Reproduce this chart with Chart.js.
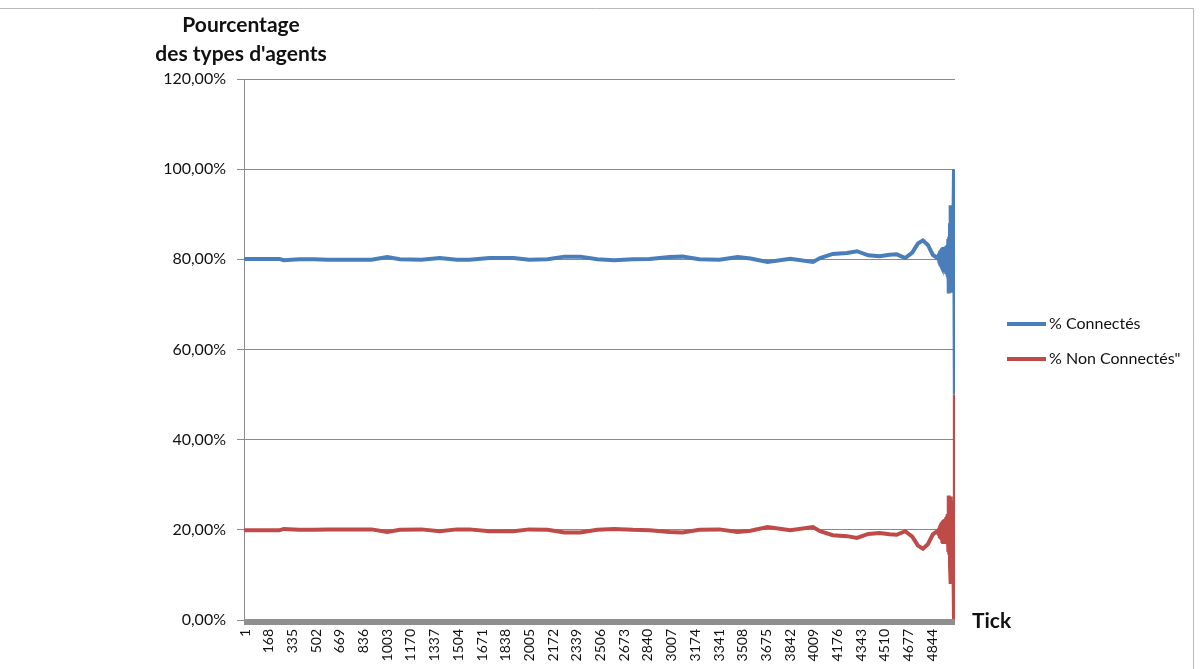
<!DOCTYPE html>
<html>
<head>
<meta charset="utf-8">
<script src="https://cdn.jsdelivr.net/npm/chart.js@4/dist/chart.umd.min.js"></script>
<style>
  html, body { margin: 0; padding: 0; background: #fff; overflow: hidden; }
  canvas { display: block; }
</style>
</head>
<body>
<canvas id="graphique_agents" width="1203" height="669"></canvas>
<script>
// ticks de la simulation (axe X) et pourcentages lus pour chaque type d'agent
var ticks = [1, 110, 250, 280, 390, 500, 590, 750, 900, 1010, 1100, 1250, 1380, 1500, 1590, 1730, 1900,
  2010, 2140, 2260, 2370, 2490, 2610, 2740, 2860, 3000, 3090, 3210, 3350, 3480, 3570, 3690, 3850,
  4010, 4060, 4150, 4250, 4320, 4400, 4480, 4550, 4600, 4660, 4710, 4750, 4785, 4820, 4855, 4885,
  4898, 4901, 4904, 4907, 4910, 4913, 4916, 4919, 4922, 4925, 4928, 4931, 4934, 4937, 4940, 4943,
  4946, 4949, 4952, 4955, 4958, 4961,
  4964, 4967, 4970, 4973, 4976, 4979, 4982, 4985, 4988, 4991, 4994, 4997, 5000, 5004, 5010];

var connectes = [80.1, 80.1, 80.1, 79.8, 80.0, 80.0, 79.9, 79.9, 79.9, 80.5, 80.0, 79.9, 80.3, 79.9, 79.9, 80.3, 80.3,
  79.9, 80.0, 80.6, 80.6, 80.0, 79.8, 80.0, 80.1, 80.5, 80.6, 80.0, 79.9, 80.5, 80.2, 79.4, 80.1,
  79.4, 80.3, 81.2, 81.4, 81.8, 80.9, 80.7, 81.0, 81.1, 80.3, 81.5, 83.5, 84.2, 83.2, 81.0, 80.3,
  81.0, 79.5, 81.8, 79.0, 82.0, 78.6, 82.3, 78.3, 82.5, 78.0, 82.7, 77.8, 82.7, 77.6, 82.6, 77.6,
  82.8, 77.2, 83.0, 77.0, 83.2, 76.5,
  84.5, 72.4, 85.0, 73.0, 88.0, 72.6, 92.0, 73.5, 91.5, 74.0, 91.8, 76.0, 88.0, 100.0, 50.0];

var nonConnectes = [19.9, 19.9, 19.9, 20.2, 20.0, 20.0, 20.1, 20.1, 20.1, 19.5, 20.0, 20.1, 19.7, 20.1, 20.1, 19.7, 19.7,
  20.1, 20.0, 19.4, 19.4, 20.0, 20.2, 20.0, 19.9, 19.5, 19.4, 20.0, 20.1, 19.5, 19.8, 20.6, 19.9,
  20.6, 19.7, 18.8, 18.6, 18.2, 19.1, 19.3, 19.0, 18.9, 19.7, 18.5, 16.5, 15.8, 16.8, 19.0, 19.7,
  19.0, 20.5, 18.2, 21.0, 18.0, 21.4, 17.7, 21.7, 17.5, 22.0, 17.3, 22.2, 17.3, 22.4, 17.4, 22.4,
  17.2, 22.8, 17.0, 23.0, 16.8, 23.5,
  15.5, 27.6, 15.0, 27.0, 12.0, 27.4, 8.0, 26.5, 8.5, 26.0, 8.2, 24.0, 12.0, 0.0, 50.0];

// graduations affichées sous l'axe X (une tous les 167 ticks)
var etiquettesX = [1, 168, 335, 502, 669, 836, 1003, 1170, 1337, 1504, 1671, 1838, 2005, 2172, 2339,
  2506, 2673, 2840, 3007, 3174, 3341, 3508, 3675, 3842, 4009, 4176, 4343, 4510, 4677, 4844];

var series = [
  { label: "% Connectés", valeurs: connectes, couleur: "#4a7ebb" },
  { label: "% Non Connectés\"", valeurs: nonConnectes, couleur: "#be4b48" }
];

function points(valeurs) {
  return ticks.map(function (t, i) { return { x: t, y: valeurs[i] }; });
}

var policeTexte = "Lato, 'Liberation Sans', sans-serif";

// textes hors zone de tracé : titres d'axes, légende, étiquettes X verticales, cadre
var decorations = {
  id: "decorations",
  afterDraw: function (chart) {
    var ctx = chart.ctx;
    var x = chart.scales.x;
    var area = chart.chartArea;
    ctx.save();

    // cadre gris autour du graphique
    ctx.strokeStyle = "#b9b9b9";
    ctx.lineWidth = 1;
    ctx.beginPath();
    ctx.moveTo(0, 8.5);
    ctx.lineTo(1193.5, 8.5);
    ctx.lineTo(1193.5, 669);
    ctx.stroke();

    // bande des graduations denses de l'axe X
    ctx.fillStyle = "#8f8f8f";
    ctx.fillRect(area.left, area.bottom - 1, area.right - area.left, 6);

    // étiquettes X tournées
    ctx.fillStyle = "#111";
    ctx.font = "14px " + policeTexte;
    ctx.textAlign = "right";
    ctx.textBaseline = "middle";
    etiquettesX.forEach(function (v) {
      var px = x.getPixelForValue(v);
      ctx.save();
      ctx.translate(px + 1, 629);
      ctx.rotate(-Math.PI / 2);
      ctx.fillText(String(v), 0, 0);
      ctx.restore();
    });

    // titre de l'axe Y
    ctx.font = "bold 21px " + policeTexte;
    ctx.textAlign = "center";
    ctx.textBaseline = "alphabetic";
    ctx.fillText("Pourcentage", 241, 32);
    ctx.fillText("des types d'agents", 241, 61);

    // titre de l'axe X
    ctx.textAlign = "left";
    ctx.fillText("Tick", 972, 628);

    // légende
    ctx.font = "16px " + policeTexte;
    ctx.textBaseline = "middle";
    series.forEach(function (s, i) {
      var y = 324 + i * 35;
      ctx.strokeStyle = s.couleur;
      ctx.lineWidth = 4;
      ctx.beginPath();
      ctx.moveTo(1007, y);
      ctx.lineTo(1046, y);
      ctx.stroke();
      ctx.fillStyle = "#111";
      ctx.fillText(s.label, 1049, y);
    });

    ctx.restore();
  }
};

var ctx = document.getElementById("graphique_agents").getContext("2d");
var graphique = new Chart(ctx, {
  type: "line",
  data: {
    datasets: series.map(function (s, i) {
      return {
        label: s.label,
        data: points(s.valeurs),
        borderColor: s.couleur,
        backgroundColor: s.couleur,
        borderWidth: 4,
        pointRadius: 0,
        tension: 0,
        order: 2 - i
      };
    })
  },
  options: {
    responsive: false,
    animation: false,
    devicePixelRatio: 1,
    layout: { padding: { top: 79, right: 248, left: 0, bottom: 0 } },
    plugins: {
      legend: { display: false },
      tooltip: { enabled: false }
    },
    scales: {
      x: {
        type: "linear",
        min: 1,
        max: 5011,
        afterFit: function (scale) { scale.height = 49; },
        afterBuildTicks: function (scale) {
          scale.ticks = etiquettesX.map(function (v) { return { value: v }; });
        },
        ticks: { display: false },
        grid: { display: false },
        border: { display: false }
      },
      y: {
        min: 0,
        max: 120,
        afterFit: function (scale) { scale.width = 244; },
        ticks: {
          stepSize: 20,
          padding: 11,
          color: "#111",
          font: { family: policeTexte, size: 16 },
          callback: function (v) { return v.toFixed(2).replace(".", ",") + "%"; }
        },
        grid: { color: "#8a8a8a", lineWidth: 1, tickLength: 7 },
        border: { color: "#8a8a8a", width: 1 }
      }
    }
  },
  plugins: [decorations]
});
</script>
</body>
</html>
